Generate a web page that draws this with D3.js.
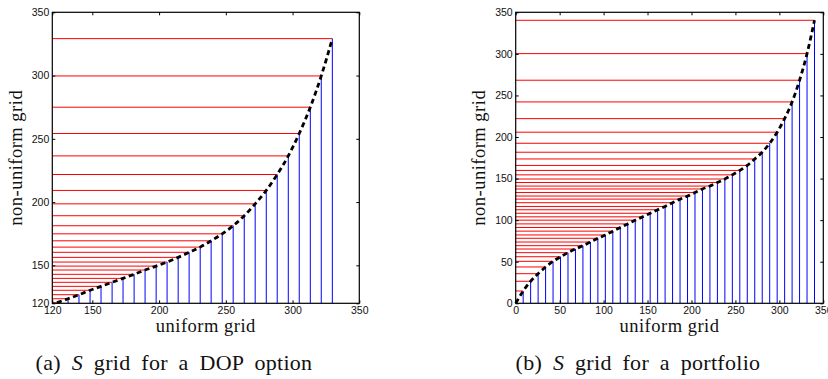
<html>
<head>
    <title>S grids</title>
    <script src="https://d3js.org/d3.v7.min.js"></script>
    <style>
        body { margin: 0; background: #fff; }
        .tick text { font-family: "Liberation Sans", Arial, sans-serif; font-size: 10.5px; fill: #111; }
        .lbl { font-family: "Liberation Serif", "Times New Roman", serif; fill: #111; }
    </style>
</head>
<body>
<div class="chart"></div>
<script>
    // (a) DOP option grid
    const dopUniform = [123.5, 131.8, 140, 148.3, 156.5, 164.8, 173, 181.3, 189.5, 197.8, 206, 214.3, 222.5,
        230.8, 239, 247.3, 255.5, 263.8, 272, 280.3, 288.5, 296.8, 305, 313.3, 321.5, 329.8];
    const dopNonUniform = [120.5, 123.6, 126.8, 130.3, 133.4, 136.6, 139.7, 142.9, 146.3, 149.4, 152.6, 156.3, 160.3,
        164.4, 169.4, 174.9, 181.3, 189.2, 198.6, 209.2, 221.8, 236.5, 254.2, 275.0, 299.7, 329.2];
    const dopTicks = [120, 150, 200, 250, 300, 350];

    // (b) portfolio grid
    const portUniform = [0, 8.5, 17, 25.5, 34, 42.5, 51, 59.5, 68, 76.5, 85, 93.5, 102, 110.5, 119, 127.5, 136,
        144.5, 153, 161.5, 170, 178.5, 187, 195.5, 204, 212.5, 221, 229.5, 238, 246.5, 255, 263.5, 272, 280.5,
        289, 297.5, 306, 314.5, 323, 331.5, 340];
    const portNonUniform = [0, 14.8, 26.5, 35.6, 43.7, 50.5, 56.0, 60.9, 65.3, 69.3, 73.7, 78.2, 82.2, 86.8, 91.2,
        95.5, 100.0, 104.0, 108.3, 112.5, 116.5, 121.0, 125.3, 129.0, 133.3, 137.5, 141.0, 145.3, 149.5, 154.5,
        159.8, 165.8, 173.6, 181.7, 192.5, 205.8, 222.1, 242.2, 268.3, 300.3, 340.4];
    const portTicks = [0, 50, 100, 150, 200, 250, 300, 350];

    const xLabel = 'uniform grid';
    const yLabel = 'non-uniform grid';

    const svg = d3.select('.chart')
        .append('svg')
        .attr('width', 828)
        .attr('height', 379);

    function drawPanel(p) {
        const xScale = d3.scaleLinear().domain(p.domain).range([p.left, p.right]);
        const yScale = d3.scaleLinear().domain(p.domain).range([p.bottom, p.top]);
        const pts = p.xs.map((x, i) => ({ x: x, y: p.ys[i] }));
        const g = svg.append('g');

        // red horizontal lines from the y axis to each node
        g.selectAll('.hline')
            .data(pts)
            .join('line')
            .attr('x1', p.left)
            .attr('x2', d => xScale(d.x))
            .attr('y1', d => yScale(d.y))
            .attr('y2', d => yScale(d.y))
            .attr('stroke', '#ff0000')
            .attr('stroke-width', 1);

        // blue stems from the x axis
        g.selectAll('.vline')
            .data(pts)
            .join('line')
            .attr('x1', d => xScale(d.x))
            .attr('x2', d => xScale(d.x))
            .attr('y1', p.bottom)
            .attr('y2', d => yScale(d.y))
            .attr('stroke', '#0000ff')
            .attr('stroke-width', 1);

        g.append('path')
            .datum(pts)
            .attr('fill', 'none')
            .attr('stroke', '#000')
            .attr('stroke-width', 2.8)
            .attr('stroke-dasharray', '5,3.5')
            .attr('d', d3.line().x(d => xScale(d.x)).y(d => yScale(d.y)).curve(d3.curveMonotoneX));

        // axes, ticks pointing inward
        g.append('g')
            .attr('transform', `translate(0,${p.bottom})`)
            .call(d3.axisBottom(xScale).tickValues(p.ticks).tickSizeInner(-3).tickSizeOuter(0).tickPadding(3.5))
            .call(a => a.select('.domain').remove());
        g.append('g')
            .attr('transform', `translate(0,${p.top})`)
            .call(d3.axisTop(xScale).tickValues(p.ticks).tickSizeInner(-3).tickSizeOuter(0).tickFormat(''))
            .call(a => a.select('.domain').remove());
        g.append('g')
            .attr('transform', `translate(${p.left},0)`)
            .call(d3.axisLeft(yScale).tickValues(p.ticks).tickSizeInner(-3).tickSizeOuter(0).tickPadding(3))
            .call(a => a.select('.domain').remove());
        g.append('g')
            .attr('transform', `translate(${p.right},0)`)
            .call(d3.axisRight(yScale).tickValues(p.ticks).tickSizeInner(-3).tickSizeOuter(0).tickFormat(''))
            .call(a => a.select('.domain').remove());

        g.append('rect')
            .attr('x', p.left)
            .attr('y', p.top)
            .attr('width', p.right - p.left)
            .attr('height', p.bottom - p.top)
            .attr('fill', 'none')
            .attr('stroke', '#000')
            .attr('stroke-width', 1.2);

        g.append('text')
            .attr('class', 'lbl')
            .attr('x', (p.left + p.right) / 2)
            .attr('y', 332)
            .attr('text-anchor', 'middle')
            .style('font-size', '18.5px')
            .style('letter-spacing', '0.5px')
            .text(xLabel);

        g.append('text')
            .attr('class', 'lbl')
            .attr('transform', `translate(${p.yLabelX},${(p.top + p.bottom) / 2}) rotate(-90)`)
            .attr('text-anchor', 'middle')
            .style('font-size', '18.5px')
            .style('letter-spacing', '0.5px')
            .text(yLabel);

        const cap = g.append('text')
            .attr('class', 'lbl')
            .attr('x', p.capX)
            .attr('y', 370)
            .attr('text-anchor', 'middle')
            .style('font-size', '22px')
            .style('letter-spacing', '0.3px')
            .style('word-spacing', '5px');
        cap.append('tspan').text(p.capA + ' ');
        cap.append('tspan').style('font-style', 'italic').text('S');
        cap.append('tspan').text(' ' + p.capB);
    }

    drawPanel({
        xs: dopUniform, ys: dopNonUniform, ticks: dopTicks, domain: [120, 350],
        left: 52.3, right: 359.3, top: 12.3, bottom: 303.3,
        yLabelX: 21.5, capX: 174, capA: '(a)', capB: 'grid for a DOP option'
    });

    drawPanel({
        xs: portUniform, ys: portNonUniform, ticks: portTicks, domain: [0, 350],
        left: 515.7, right: 823.3, top: 12.3, bottom: 303.3,
        yLabelX: 485, capX: 638, capA: '(b)', capB: 'grid for a portfolio'
    });
</script>
</body>
</html>
